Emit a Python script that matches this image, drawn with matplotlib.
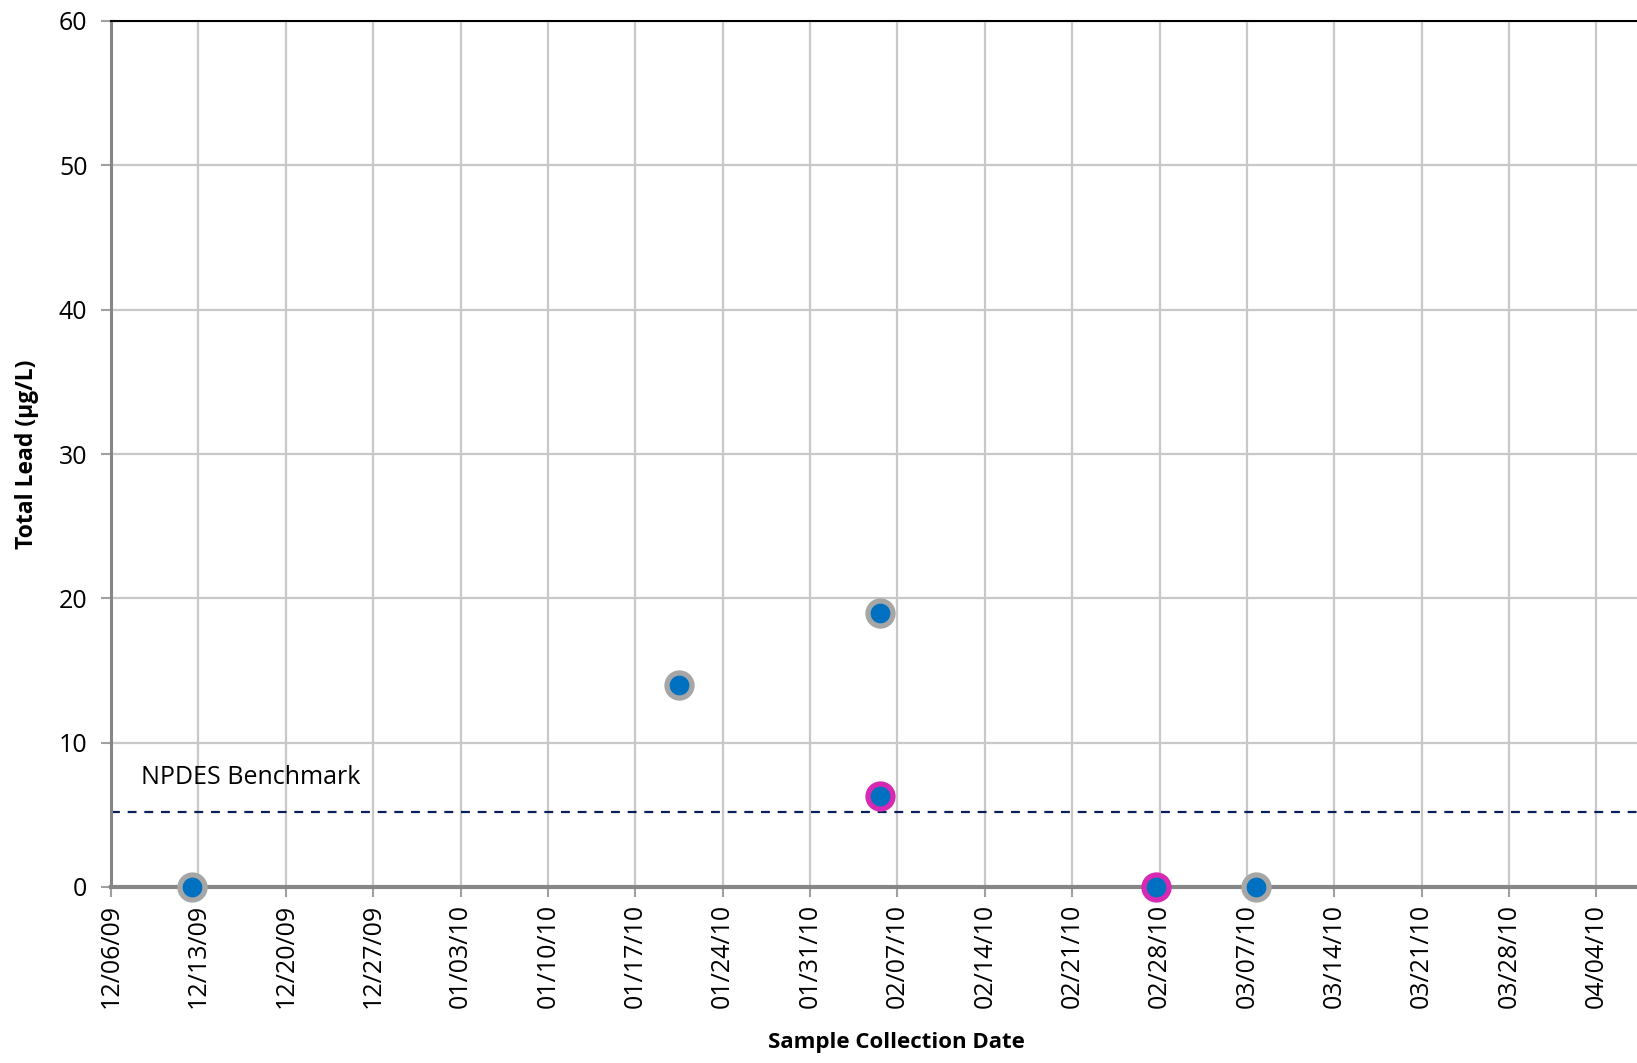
import matplotlib
matplotlib.use("Agg")
import matplotlib.pyplot as plt
import matplotlib.dates as mdates
import pandas as pd

# sample results (two series, same site)
gray_dates = ["2009-12-12 12:00", "2010-01-20 12:00", "2010-02-05 15:00", "2010-03-07 18:00"]
gray_vals = [0, 14, 19, 0]
pink_dates = ["2010-02-05 15:00", "2010-02-27 18:00"]
pink_vals = [6.3, 0]

benchmark = 5.2
benchmark_label = "NPDES Benchmark"

x_start = "2009-12-06"
x_end = "2010-04-07 06:00"
tick_dates = pd.date_range("2009-12-06", "2010-04-04", freq="7D")
y_ticks = [0, 10, 20, 30, 40, 50, 60]

plt.rcParams["font.family"] = ["Open Sans", "DejaVu Sans"]

W, H = 1637, 1063
fig = plt.figure(figsize=(W / 100, H / 100), dpi=100)
ax = fig.add_axes([111 / W, 1 - 887 / H, 1 - 111 / W, (887 - 21) / H])

ax.set_xlim(pd.Timestamp(x_start), pd.Timestamp(x_end))
ax.set_ylim(0, 60)

ax.grid(True, color="#c8c8c8", linewidth=1.6)
ax.set_axisbelow(True)

ax.axhline(benchmark, color="#0b1f5c", linestyle=(0, (4, 3.5)), linewidth=1.6, zorder=2)
ax.text(pd.Timestamp("2009-12-08 10:00"), 7.6, benchmark_label, fontsize=18,
        ha="left", va="center")

ax.plot(pd.to_datetime(gray_dates), gray_vals, linestyle="none", marker="o",
        markersize=18, markerfacecolor="#0070c0", markeredgecolor="#a6a6a6",
        markeredgewidth=3.8, clip_on=False, zorder=4)
ax.plot(pd.to_datetime(pink_dates), pink_vals, linestyle="none", marker="o",
        markersize=18, markerfacecolor="#0070c0", markeredgecolor="#d62ab2",
        markeredgewidth=3.8, clip_on=False, zorder=5)

ax.set_xticks(tick_dates)
ax.xaxis.set_major_formatter(mdates.DateFormatter("%m/%d/%y"))
ax.set_yticks(y_ticks)
ax.tick_params(axis="x", rotation=90, labelsize=18, direction="out", length=7,
               width=1.5, color="#a0a0a0", pad=5)
ax.tick_params(axis="y", labelsize=18, direction="out", length=7, width=1.5,
               color="#a0a0a0", pad=10)

ax.spines["top"].set_color("black")
ax.spines["top"].set_linewidth(1.5)
ax.spines["left"].set_color("#868686")
ax.spines["left"].set_linewidth(2.2)
ax.spines["bottom"].set_color("#868686")
ax.spines["bottom"].set_linewidth(3)
ax.spines["right"].set_visible(False)

ax.set_xlabel("Sample Collection Date", fontsize=16, fontweight="bold")
ax.xaxis.set_label_coords(0.515, -0.168)
ax.set_ylabel("Total Lead (µg/L)", fontsize=16.5, fontweight="bold", labelpad=14)

fig.savefig("out.png", dpi=100)
